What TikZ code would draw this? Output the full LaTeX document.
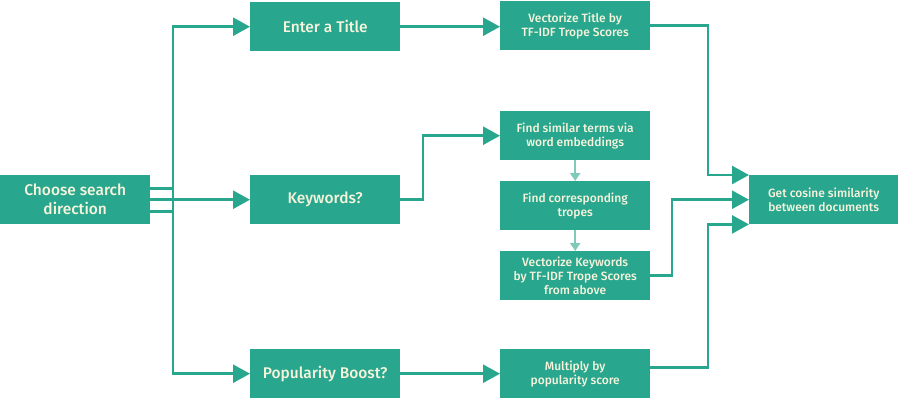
\documentclass[tikz,border=0pt]{standalone}
\usepackage{fontspec}
\setmainfont{Fira Sans}[UprightFont=* Medium]
\usetikzlibrary{arrows.meta}
\definecolor{teal1}{HTML}{29A68E}
\definecolor{cream}{HTML}{F7F4DC}
\begin{document}
\begin{tikzpicture}[x=1pt,y=-1pt,
  box/.style={fill=teal1, text=cream, minimum width=150pt, minimum height=49pt, inner sep=2pt, align=center, font=\fontsize{15.5}{19}\selectfont, anchor=north west},
  sbox/.style={box, font=\fontsize{12}{14}\selectfont},
  conn/.style={draw=teal1, line width=2.6pt, -{Triangle[length=17pt,width=18pt]}},
  vconn/.style={draw=teal1!60, line width=2pt, -{Triangle[length=8pt,width=10pt]}, shorten >=0pt}]
\useasboundingbox (0,0) rectangle (900,400);
\node[box] (choose) at (0,175) {Choose search\\direction};
\node[box] (title) at (250,2) {Enter a Title};
\node[box] (kw) at (250,175) {Keywords?};
\node[box] (pop) at (250,349) {Popularity Boost?};
\node[sbox] (vt) at (500,1) {Vectorize Title by\\TF-IDF Trope Scores};
\node[sbox] (fs) at (500,111) {Find similar terms via\\word embeddings};
\node[sbox] (fc) at (500,181) {Find corresponding\\tropes};
\node[sbox] (vk) at (500,251) {Vectorize Keywords\\by TF-IDF Trope Scores\\from above};
\node[sbox] (mul) at (500,349) {Multiply by\\popularity score};
\node[sbox, minimum width=149pt] (cos) at (749,175) {Get cosine similarity\\between documents};
\coordinate (c1) at (173,0);
\coordinate (c2) at (423,0);
\coordinate (c3) at (708,0);
\coordinate (c4) at (672,0);
\draw[conn] ([yshift=-12pt]choose.east) -| (c1 |- title.west) -- (title.west);
\draw[conn] (choose.east) -- (kw.west);
\draw[conn] ([yshift=11pt]choose.east) -| (c1 |- pop.west) -- (pop.west);
\draw[conn] (title.east) -- (title.east -| vt.west);
\draw[conn] (kw.east) -| (c2 |- fs.west) -- (fs.west);
\draw[conn] (pop.east) -- (pop.east -| mul.west);
\draw[vconn] (fs.south) -- (fc.north);
\draw[vconn] (fc.south) -- (vk.north);
\draw[conn] (vt.east) -| (c3 |- cos.north west) -- (cos.north west);
\draw[conn] (vk.east) -| (c4 |- cos.west) -- (cos.west);
\draw[conn] ([yshift=6pt]mul.east) -| (c3 |- cos.south west) -- (cos.south west);
\end{tikzpicture}
\end{document}
